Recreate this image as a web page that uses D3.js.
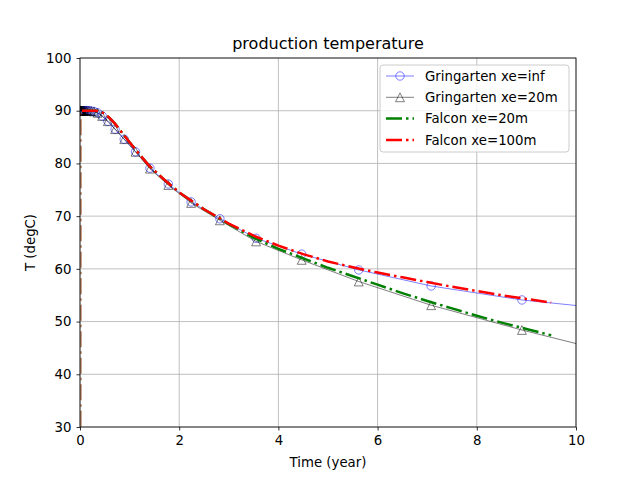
<!DOCTYPE html>
<html><head><meta charset="utf-8">
<script src="https://cdn.jsdelivr.net/npm/d3@7"></script>
<style>body{margin:0;background:#fff}text{font-family:"DejaVu Sans",sans-serif}</style>
</head><body><svg id="c" width="640" height="480"></svg>
<script>
const gTime = [0.00089,0.00112,0.00141,0.00178,0.00224,0.00282,0.00355,0.00447,0.00562,0.00708,0.0089,0.0112,0.0141,0.0178,0.0224,0.0282,0.0355,0.0447,0.0562,0.0708,0.0891,0.112,0.141,0.178,0.224,0.282,0.355,0.447,0.562,0.708,0.891,1.12,1.41,1.78,2.24,2.82,3.55,4.47,5.62,7.08,8.91,11.2];
const gInf = [90,90,90,90,90,90,90,90,90,90,90,90,90,90,90,90,90,90,90,90,90,90,90,90,89.95,89.85,89.6,89.0,88.0,86.5,84.6,82.2,79.1,76.1,72.7,69.5,65.8,62.8,59.8,56.75,54.1,51.9];
const g20  = [90,90,90,90,90,90,90,90,90,90,90,90,90,90,90,90,90,90,90,90,90,90,90,90,89.95,89.85,89.6,89.0,88.0,86.5,84.6,82.2,79.0,75.9,72.5,69.2,65.2,61.7,57.6,53.1,48.4,43.0];
const fTime = [0,0.001,0.1,0.2,0.3,0.4,0.5,0.6,0.7,0.8,0.9,1.0,1.2,1.4,1.7,2.0,2.5,3.0,3.5,4.0,4.5,5.0,5.5,6.0,6.5,7.0,7.5,8.0,8.5,9.0,9.5];
const f100 = [20,90,90,90,90,89.9,89.4,88.6,87.6,86.4,85.2,84.0,81.7,79.5,76.9,74.5,71.3,68.6,66.3,64.4,62.8,61.4,60.3,59.3,58.4,57.5,56.6,55.8,55.0,54.3,53.6];
const f20  = [20,90,90,90,90,89.9,89.4,88.6,87.6,86.4,85.2,84.0,81.7,79.5,76.9,74.5,71.3,68.5,65.9,63.8,62.0,60.2,58.6,57.0,55.4,53.9,52.5,51.1,49.8,48.6,47.4];
const xTicks = [0,2,4,6,8,10];
const yTicks = [30,40,50,60,70,80,90,100];
const labels = ["Gringarten xe=inf","Gringarten xe=20m","Falcon xe=20m","Falcon xe=100m"];

const svg = d3.select("#c");
const L=80,R=576,T=58,B=427;
const x = d3.scaleLinear().domain([0,10]).range([L,R]);
const y = d3.scaleLinear().domain([30,100]).range([B,T]);
const defs = svg.append("defs");
defs.append("clipPath").attr("id","cp").append("rect").attr("x",L).attr("y",T).attr("width",R-L).attr("height",B-T);
defs.append("clipPath").attr("id","cpf").append("rect").attr("x",L+0.7).attr("y",T).attr("width",R-L-0.7).attr("height",B-T);
const grid = svg.append("g").attr("stroke","#b0b0b0").attr("stroke-width",0.8);
xTicks.forEach(t=>grid.append("line").attr("x1",x(t)).attr("x2",x(t)).attr("y1",T).attr("y2",B));
yTicks.forEach(t=>grid.append("line").attr("y1",y(t)).attr("y2",y(t)).attr("x1",L).attr("x2",R));
const plot = svg.append("g").attr("clip-path","url(#cp)");
const fplot = svg.append("g").attr("clip-path","url(#cpf)");
const line = (xs,ys)=>d3.line().x((d,i)=>x(xs[i])).y(d=>y(d))(ys);
plot.append("path").attr("d",line(gTime,gInf)).attr("fill","none").attr("stroke","#0000ff").attr("stroke-opacity",0.5).attr("stroke-width",1);
plot.append("path").attr("d",line(gTime,g20)).attr("fill","none").attr("stroke","#000").attr("stroke-opacity",0.5).attr("stroke-width",1);
gInf.forEach((v,i)=>plot.append("circle").attr("cx",x(gTime[i])).attr("cy",y(v)).attr("r",4.2).attr("fill","none").attr("stroke","#0000ff").attr("stroke-opacity",0.5).attr("stroke-width",1));
const triPath = "M0,-4.4L-4.4,4.4L4.4,4.4Z";
g20.forEach((v,i)=>plot.append("path").attr("d",triPath).attr("transform",`translate(${x(gTime[i])},${y(v)})`).attr("fill","none").attr("stroke","#000").attr("stroke-opacity",0.5).attr("stroke-width",1));
fplot.append("path").attr("d",line(fTime,f20)).attr("fill","none").attr("stroke","#008000").attr("stroke-width",2.5).attr("stroke-dasharray","16,4,2.5,4");
fplot.append("path").attr("d",line(fTime,f100)).attr("fill","none").attr("stroke","#ff0000").attr("stroke-width",2.5).attr("stroke-dasharray","16,4,2.5,4");
const ax = svg.append("g").attr("transform",`translate(0,${B})`).call(d3.axisBottom(x).tickValues(xTicks).tickFormat(d3.format("d")).tickSize(3.5).tickPadding(5));
const ay = svg.append("g").attr("transform",`translate(${L},0)`).call(d3.axisLeft(y).tickValues(yTicks).tickFormat(d3.format("d")).tickSize(3.5).tickPadding(5));
[ax,ay].forEach(a=>{a.selectAll("text").attr("font-size",13.3).attr("fill","#000").attr("font-family","DejaVu Sans");a.selectAll("line").attr("stroke","#000").attr("stroke-width",0.8);a.select(".domain").remove();});
svg.append("rect").attr("x",L).attr("y",T).attr("width",R-L).attr("height",B-T).attr("fill","none").attr("stroke","#000").attr("stroke-width",0.8);
svg.append("text").attr("x",(L+R)/2).attr("y",49).attr("text-anchor","middle").attr("font-size",16).text("production temperature");
svg.append("text").attr("x",(L+R)/2).attr("y",467).attr("text-anchor","middle").attr("font-size",13.3).text("Time (year)");
svg.append("text").attr("transform",`translate(35,${(T+B)/2}) rotate(-90)`).attr("text-anchor","middle").attr("font-size",13.3).text("T (degC)");
const lg = svg.append("g");
lg.append("rect").attr("x",380).attr("y",65).attr("width",189).attr("height",87).attr("rx",3).attr("fill","#fff").attr("fill-opacity",0.8).attr("stroke","#cccccc");
const ly = i=>76+i*21.3;
labels.forEach((s,i)=>{
  lg.append("text").attr("x",425).attr("y",ly(i)+4.8).attr("font-size",13.3).text(s);
});
lg.append("line").attr("x1",386).attr("x2",414).attr("y1",ly(0)).attr("y2",ly(0)).attr("stroke","#0000ff").attr("stroke-opacity",0.5);
lg.append("circle").attr("cx",400).attr("cy",ly(0)).attr("r",4.2).attr("fill","none").attr("stroke","#0000ff").attr("stroke-opacity",0.5);
lg.append("line").attr("x1",386).attr("x2",414).attr("y1",ly(1)).attr("y2",ly(1)).attr("stroke","#000").attr("stroke-opacity",0.5);
lg.append("path").attr("d",triPath).attr("transform",`translate(400,${ly(1)})`).attr("fill","none").attr("stroke","#000").attr("stroke-opacity",0.5);
lg.append("line").attr("x1",386).attr("x2",414).attr("y1",ly(2)).attr("y2",ly(2)).attr("stroke","#008000").attr("stroke-width",2.5).attr("stroke-dasharray","16,4,2.5,4");
lg.append("line").attr("x1",386).attr("x2",414).attr("y1",ly(3)).attr("y2",ly(3)).attr("stroke","#ff0000").attr("stroke-width",2.5).attr("stroke-dasharray","16,4,2.5,4");
</script></body></html>
